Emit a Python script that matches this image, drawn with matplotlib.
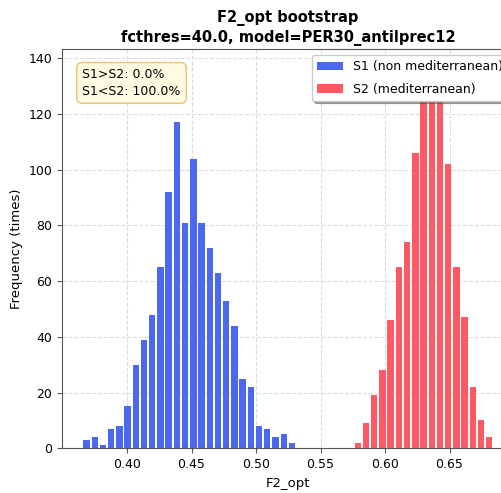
import numpy as np
import matplotlib
matplotlib.use("Agg")
import matplotlib.pyplot as plt

# Bootstrap counts per bin (1000 resamples each)
s1_counts = [3, 4, 1, 7, 8, 15, 30, 39, 48, 65, 92, 117, 81, 104, 81, 72, 63,
             53, 44, 25, 22, 8, 7, 4, 5, 2]
s2_counts = [2, 9, 19, 28, 46, 65, 74, 106, 131, 136, 134, 102, 65, 47, 22, 10, 4]

s1_first_edge = 0.3654
s2_first_edge = 0.5757
bin_width = 0.00637

s1_label = "S1 (non mediterranean)"
s2_label = "S2 (mediterranean)"
stats_text = "S1>S2: 0.0%\nS1<S2: 100.0%"

s1_edges = s1_first_edge + bin_width * np.arange(len(s1_counts) + 1)
s2_edges = s2_first_edge + bin_width * np.arange(len(s2_counts) + 1)
s1_centers = (s1_edges[:-1] + s1_edges[1:]) / 2
s2_centers = (s2_edges[:-1] + s2_edges[1:]) / 2

fig = plt.figure(figsize=(5.02, 4.93), dpi=100)
ax = fig.add_axes([0.1235, 0.0907, 0.9005, 0.8099])

ax.hist(s1_centers, bins=s1_edges, weights=s1_counts, rwidth=0.78,
        color="#4a68f0", label=s1_label, zorder=2)
ax.hist(s2_centers, bins=s2_edges, weights=s2_counts, rwidth=0.78,
        color="#ff5a64", label=s2_label, zorder=2)

ax.set_xlim(0.3496, 0.700)
ax.set_ylim(0, 143.3)
ax.set_xticks([0.40, 0.45, 0.50, 0.55, 0.60, 0.65])
ax.set_yticks(range(0, 141, 20))
ax.tick_params(labelsize=9, color="#555555")
ax.grid(True, linestyle="--", color="#dddddd", linewidth=0.8, zorder=0)
for sp in ax.spines.values():
    sp.set_color("#555555")

ax.set_xlabel("F2_opt", fontsize=9.5)
ax.set_ylabel("Frequency (times)", fontsize=9.5)
ax.set_title("F2_opt bootstrap\nfcthres=40.0, model=PER30_antilprec12",
             fontsize=10.5, fontweight="bold", linespacing=1.35, pad=5)

ax.text(0.045, 0.952, stats_text, transform=ax.transAxes, va="top", ha="left",
        fontsize=9, linespacing=1.35, zorder=5,
        bbox=dict(boxstyle="round,pad=0.45", facecolor="#fffbe3",
                  edgecolor="#e8c46e", linewidth=1))

leg = ax.legend(loc="upper right", fontsize=9, shadow=True, fancybox=True,
                framealpha=1, borderaxespad=0.5, labelspacing=0.75,
                handlelength=2.1)
leg.set_zorder(6)

fig.savefig("out.png", dpi=100)
